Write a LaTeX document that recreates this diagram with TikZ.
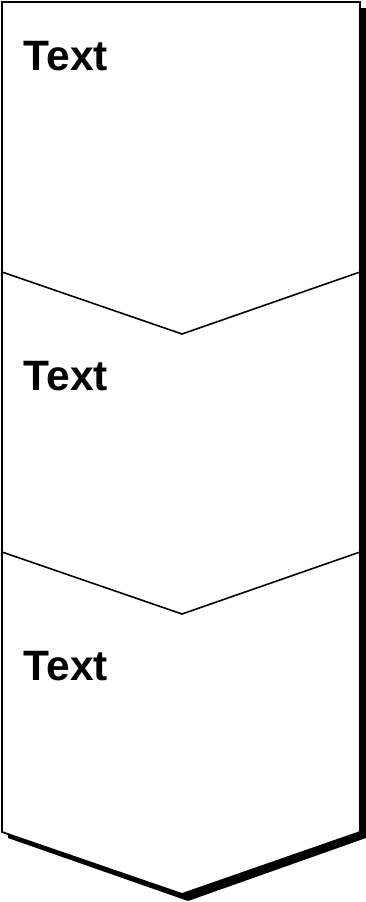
\documentclass[tikz,border=0pt]{standalone}
\usepackage{fontspec}
\setmainfont{Liberation Sans}
\usepackage{tikz}
\usetikzlibrary{calc}
\tikzset{
  chevron outline/.style={
    draw=black,
    line width=1.8pt,
    fill=white,
    line join=miter
  },
  chevron shadow/.style={
    fill=black,
    draw=none
  },
  divider/.style={
    draw=black,
    line width=1.6pt
  },
  step label/.style={
    font=\bfseries\fontsize{42.5}{42.5}\selectfont,
    anchor=base west,
    inner sep=0pt
  }
}
\begin{document}
\begin{tikzpicture}[x=1pt, y=-1pt]
    \useasboundingbox (0,0) rectangle (366,902);

    % Eckpunkte der Pfeilform
    \coordinate (TL) at (2, 2);
    \coordinate (TR) at (360, 2);
    \coordinate (BR) at (360, 832);
    \coordinate (Tip) at (182, 894);
    \coordinate (BL) at (2, 832);

    % Schatten (nach rechts unten versetzt)
    \fill[chevron shadow] ($(TL)+(6,6)$) -- ($(TR)+(6,6)$) -- ($(BR)+(6,6)$)
      -- ($(Tip)+(6,7)$) -- ($(BL)+(6,6)$) -- cycle;

    % Umriss
    \draw[chevron outline] (TL) -- (TR) -- (BR) -- (Tip) -- (BL) -- cycle;

    % Trennlinien
    \draw[divider] (2, 272) -- (182, 334) -- (360, 272);
    \draw[divider] (2, 552) -- (182, 614) -- (360, 552);

    % Beschriftungen
    \node[step label] (text one) at (23.5, 70.5) {Text};
    \node[step label] (text two) at (23.5, 390) {Text};
    \node[step label] (text three) at (23.5, 680) {Text};

  \end{tikzpicture}
\end{document}
